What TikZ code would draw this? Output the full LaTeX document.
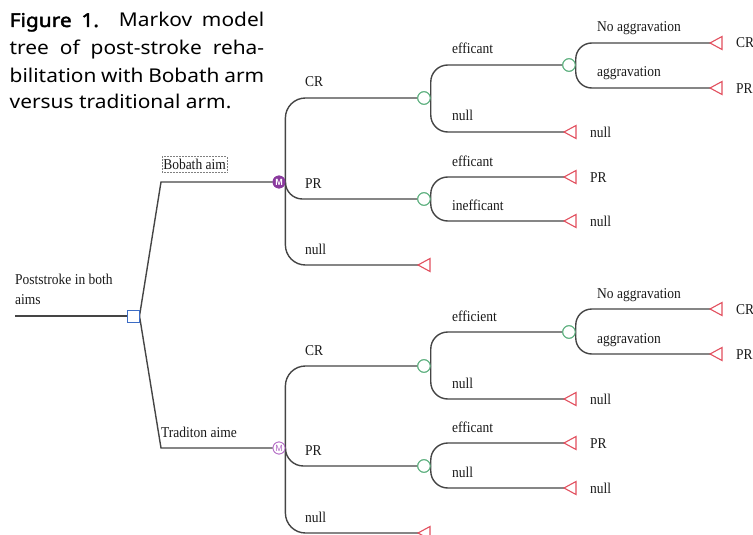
\documentclass[tikz,border=0pt]{standalone}
\usepackage{fontspec}
\setmainfont{Liberation Serif}[FakeStretch=0.9]
\newfontfamily\capfont{Noto Sans}[FakeStretch=1.1]
\newfontfamily\capbold{Noto Sans}[FakeStretch=1.1, FakeBold=2.2]
\newfontfamily\mfont{Liberation Sans}

\definecolor{edgegray}{HTML}{454545}
\definecolor{chgreen}{HTML}{5AAE7C}
\definecolor{termred}{HTML}{E2505F}
\definecolor{decblue}{HTML}{3C6CC4}
\definecolor{mdark}{HTML}{8A3A9E}
\definecolor{mlight}{HTML}{B46CC6}
\definecolor{txt}{HTML}{1A1A1A}

\tikzset{
  edge/.style={draw=edgegray, line width=1.4pt},
  chance/.style={circle, draw=chgreen, fill=white, line width=1pt,
    minimum size=12.5pt, inner sep=0pt},
  decision/.style={rectangle, draw=decblue, fill=white, line width=1pt,
    minimum size=12pt, inner sep=0pt},
  markovA/.style={circle, draw=mdark, fill=mdark, line width=0.8pt,
    minimum size=12pt, inner sep=0pt, text=white,
    font=\mfont\bfseries\fontsize{9}{9}\selectfont},
  markovB/.style={circle, draw=mlight, fill=white, line width=0.8pt,
    minimum size=12pt, inner sep=0pt, text=mlight,
    font=\mfont\fontsize{9}{9}\selectfont},
  lbl/.style={anchor=base west, inner sep=0pt, text=txt,
    font=\fontsize{15}{18}\selectfont},
  termtip/.style={draw=termred, line width=1.1pt, fill=white},
  caption/.style={anchor=base west, inner sep=0pt, text=black,
    font=\capfont\fontsize{19}{23}\selectfont},
}
% terminal node: a left-pointing triangle whose tip sits on the coordinate
\newcommand\termtri[1]{\draw[termtip] (#1) -- ++(12,-6.5) -- ++(0,13) -- cycle;}

\begin{document}
\begin{tikzpicture}[x=1pt, y=-1pt]
\useasboundingbox (0,0) rectangle (753,535);

% ---------------- caption ----------------
\node[caption] (cap1) at (9.5,27) {\makebox[254.5pt][s]{{\capbold Figure 1.} Markov model}};
\node[caption] (cap2) at (9.5,55) {\makebox[254.5pt][s]{tree of post-stroke reha-}};
\node[caption] (cap3) at (9.5,82) {\makebox[254.5pt][s]{bilitation with Bobath arm}};
\node[caption] (cap4) at (9.5,109) {versus traditional arm.};

% ---------------- nodes ----------------
\coordinate (root) at (15,316);
\node[decision] (dec) at (133,316) {};
\coordinate (bobk) at (161,182);
\coordinate (trak) at (161,448);
\node[markovA] (M1) at (279,182) {M};
\node[markovB] (M2) at (279,448) {M};

% upper subtree
\node[chance] (c1) at (424,98) {};
\node[chance] (c2) at (424,199) {};
\node[chance] (c3) at (569,65) {};
\coordinate (u1) at (418,265);
\coordinate (u2) at (564,132);
\coordinate (u3) at (564,177);
\coordinate (u4) at (564,221);
\coordinate (u5) at (710,43);
\coordinate (u6) at (710,88);

% lower subtree
\node[chance] (c4) at (424,366) {};
\node[chance] (c5) at (424,466) {};
\node[chance] (c6) at (569,332) {};
\coordinate (l1) at (418,533);
\coordinate (l2) at (564,399);
\coordinate (l3) at (564,443);
\coordinate (l4) at (564,488);
\coordinate (l5) at (710,309);
\coordinate (l6) at (710,354);

% ---------------- connectors ----------------
\draw[edge] (root) -- (dec.west);
\draw[edge] (dec.east) -- (bobk) -- (M1.west);
\draw[edge] (dec.east) -- (trak) -- (M2.west);

\draw[edge, rounded corners=20pt] (M1.east) |- (c1.west);
\draw[edge, rounded corners=17pt] (M1.east) |- (c2.west);
\draw[edge, rounded corners=20pt] (M1.east) |- (u1);
\draw[edge, rounded corners=17pt] (c1.east) |- (c3.west);
\draw[edge, rounded corners=17pt] (c1.east) |- (u2);
\draw[edge, rounded corners=17pt] (c2.east) |- (u3);
\draw[edge, rounded corners=17pt] (c2.east) |- (u4);
\draw[edge, rounded corners=16pt] (c3.east) |- (u5);
\draw[edge, rounded corners=16pt] (c3.east) |- (u6);

\draw[edge, rounded corners=20pt] (M2.east) |- (c4.west);
\draw[edge, rounded corners=18pt] (M2.east) |- (c5.west);
\draw[edge, rounded corners=20pt] (M2.east) |- (l1);
\draw[edge, rounded corners=17pt] (c4.east) |- (c6.west);
\draw[edge, rounded corners=17pt] (c4.east) |- (l2);
\draw[edge, rounded corners=17pt] (c5.east) |- (l3);
\draw[edge, rounded corners=17pt] (c5.east) |- (l4);
\draw[edge, rounded corners=16pt] (c6.east) |- (l5);
\draw[edge, rounded corners=16pt] (c6.east) |- (l6);

% redraw the nodes over the line ends
\node[decision] at (dec) {};
\node[markovA] at (M1) {M};
\node[markovB] at (M2) {M};
\foreach \c in {c1,c2,c3,c4,c5,c6} {\node[chance] at (\c) {};}
\foreach \t in {u1,u2,u3,u4,u5,u6,l1,l2,l3,l4,l5,l6} {\termtri{\t}}

% ---------------- labels ----------------
\node[lbl] (pst1) at (15,284) {Poststroke in both};
\node[lbl] (pst2) at (15,304) {aims};
\node[lbl, draw=gray, densely dotted, line width=0.5pt, inner xsep=1pt,
      inner ysep=2pt, text depth=1pt] (bob) at (162,169) {Bobath aim};
\node[lbl] (tra) at (161,437) {Traditon aime};

\node[lbl] at (305,87) {CR};
\node[lbl] at (305,188) {PR};
\node[lbl] at (305,254) {null};
\node[lbl] at (452,54) {efficant};
\node[lbl] at (452,121) {null};
\node[lbl] at (452,166) {efficant};
\node[lbl] at (452,210) {inefficant};
\node[lbl] at (597,32) {No aggravation};
\node[lbl] at (597,77) {aggravation};
\node[lbl] at (736,48) {CR};
\node[lbl] at (736,93) {PR};
\node[lbl] at (590,137) {null};
\node[lbl] at (590,182) {PR};
\node[lbl] at (590,226) {null};

\node[lbl] at (305,355) {CR};
\node[lbl] at (305,455) {PR};
\node[lbl] at (305,522) {null};
\node[lbl] at (452,321) {efficient};
\node[lbl] at (452,388) {null};
\node[lbl] at (452,432) {efficant};
\node[lbl] at (452,477) {null};
\node[lbl] at (597,298) {No aggravation};
\node[lbl] at (597,343) {aggravation};
\node[lbl] at (736,314) {CR};
\node[lbl] at (736,359) {PR};
\node[lbl] at (590,404) {null};
\node[lbl] at (590,448) {PR};
\node[lbl] at (590,493) {null};
\end{tikzpicture}
\end{document}
